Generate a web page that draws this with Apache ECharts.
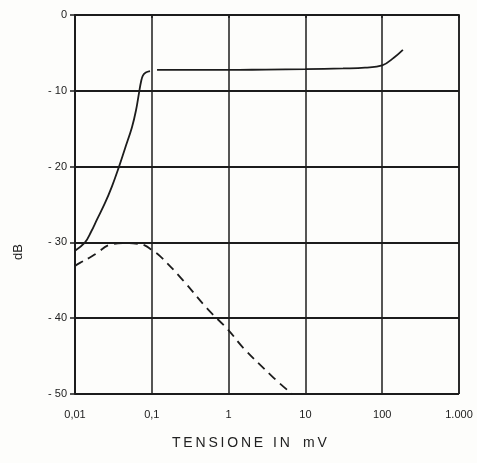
<!DOCTYPE html>
<html>
<head>
<meta charset="utf-8">
<script src="https://cdn.jsdelivr.net/npm/echarts@6/dist/echarts.min.js"></script>
<style>
  html, body { margin: 0; padding: 0; background: #fff; }
  #chart { width: 477px; height: 463px; }
</style>
</head>
<body>
<div id="chart"></div>
<script>
// Input voltage (mV) on a log scale vs. level in dB
const xTicks = [0.01, 0.1, 1, 10, 100, 1000];
const xTickLabels = ['0,01', '0,1', '1', '10', '100', '1.000'];
const yTicks = [0, -10, -20, -30, -40, -50];
const yTickLabels = ['0', '- 10', '- 20', '- 30', '- 40', '- 50'];

// Solid curve: steep rise up to the knee near 0,1 mV
const solidRiseX = [0.01, 0.0135, 0.0162, 0.0193, 0.0246, 0.0303, 0.0363, 0.0448, 0.0552, 0.0622, 0.0681, 0.0724, 0.0765, 0.0835, 0.0948];
const solidRiseY = [-31.1, -30.0, -28.6, -27.0, -24.8, -22.6, -20.4, -17.6, -14.8, -12.6, -10.3, -8.8, -8.0, -7.6, -7.4];
// Solid curve: flat plateau, lifting again above 100 mV
const solidFlatX = [0.117, 0.314, 1, 3.07, 10, 30.9, 59.7, 100, 143, 186];
const solidFlatY = [-7.25, -7.25, -7.25, -7.2, -7.15, -7.05, -6.95, -6.65, -5.6, -4.6];
// Dashed curve
const dashedX = [0.01, 0.0116, 0.0162, 0.0193, 0.0286, 0.0448, 0.0665, 0.081, 0.1, 0.128, 0.255, 0.524, 1, 1.55, 3.8, 6.7];
const dashedY = [-33.1, -32.7, -31.9, -31.4, -30.3, -30.1, -30.2, -30.4, -31.0, -31.8, -35.0, -38.7, -41.6, -43.9, -47.8, -50.0];

const zip = (xs, ys) => xs.map((x, i) => [x, ys[i]]);
const ink = '#1c1c1c';
const font = 'Liberation Sans, Arial, sans-serif';
const spaced = s => s.split('').join('\u2009');

const chart = echarts.init(document.getElementById('chart'), null, { renderer: 'canvas' });
chart.setOption({
  backgroundColor: '#fdfdfb',
  animation: false,
  grid: { left: 75, right: 18, top: 15, bottom: 69, containLabel: false },
  xAxis: {
    type: 'log',
    logBase: 10,
    min: xTicks[0],
    max: xTicks[xTicks.length - 1],
    axisLine: { show: true, lineStyle: { color: ink, width: 2 } },
    axisTick: { show: true, inside: false, length: 3, lineStyle: { color: ink, width: 1.5 } },
    minorTick: { show: false },
    splitLine: { show: true, lineStyle: { color: ink, width: 1.5 } },
    axisLabel: {
      color: '#222', fontFamily: font, fontSize: 11, margin: 15,
      formatter: v => {
        const i = xTicks.findIndex(t => Math.abs(Math.log10(t) - Math.log10(v)) < 1e-6);
        return i >= 0 ? xTickLabels[i] : '';
      }
    }
  },
  yAxis: {
    type: 'value',
    min: yTicks[yTicks.length - 1],
    max: yTicks[0],
    interval: 10,
    axisLine: { show: true, lineStyle: { color: ink, width: 2 } },
    axisTick: { show: true, length: 5, lineStyle: { color: ink, width: 1.5 } },
    splitLine: { show: true, lineStyle: { color: ink, width: 2 } },
    axisLabel: {
      color: '#222', fontFamily: font, fontSize: 11, margin: 8,
      formatter: v => {
        const i = yTicks.indexOf(v);
        return i >= 0 ? yTickLabels[i] : '';
      }
    }
  },
  graphic: [
    { type: 'text', x: 172, y: 436,
      style: { text: spaced('TENSIONE'), fill: '#222', font: '14px ' + font } },
    { type: 'text', x: 273, y: 436,
      style: { text: spaced('IN'), fill: '#222', font: '14px ' + font } },
    { type: 'text', x: 303, y: 436,
      style: { text: spaced('mV'), fill: '#222', font: '14px ' + font } },
    { type: 'text', x: 18, y: 252, rotation: Math.PI / 2,
      style: { text: 'dB', fill: '#222', font: '13px ' + font, align: 'center', verticalAlign: 'middle' } },
    // right border of the plotting frame
    { type: 'line', shape: { x1: 459, y1: 15, x2: 459, y2: 394 },
      style: { stroke: ink, lineWidth: 1.5 } }
  ],
  series: [
    { type: 'line', data: zip(solidRiseX, solidRiseY), smooth: 0.4, showSymbol: false,
      lineStyle: { color: ink, width: 1.8 } },
    { type: 'line', data: zip(solidFlatX, solidFlatY), smooth: 0.4, showSymbol: false,
      lineStyle: { color: ink, width: 1.8 } },
    { type: 'line', data: zip(dashedX, dashedY), smooth: 0.4, showSymbol: false,
      lineStyle: { color: ink, width: 1.8, type: [9, 6] } }
  ]
});
</script>
</body>
</html>
